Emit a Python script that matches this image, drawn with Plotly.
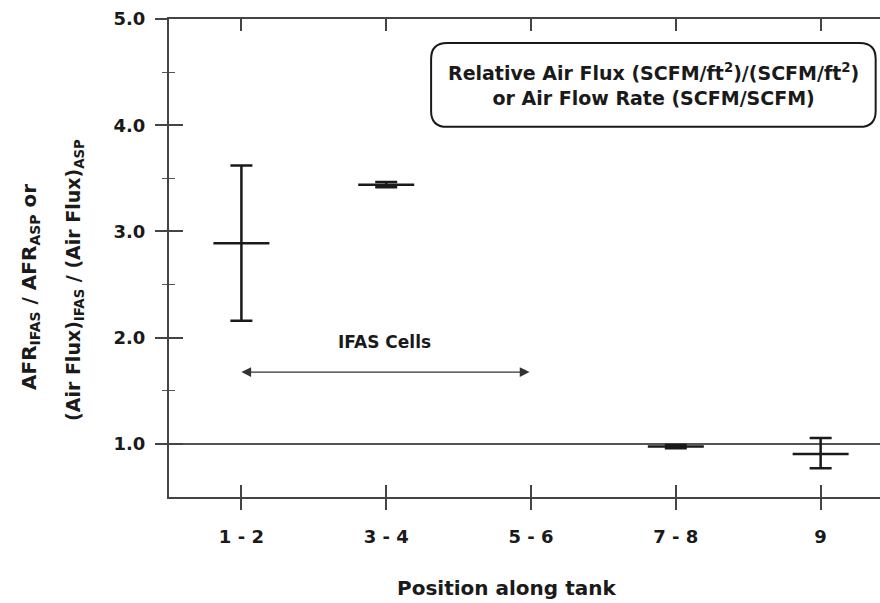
import plotly.graph_objects as go

positions = ["1 - 2", "3 - 4", "5 - 6", "7 - 8", "9"]
pos_index = [1, 2, 3, 4, 5]
pt_pos = [1, 2, 4, 5]
pt_mean = [2.89, 3.44, 0.975, 0.905]
pt_upper = [3.62, 3.465, 0.99, 1.055]
pt_lower = [2.16, 3.415, 0.96, 0.77]

FONT = "DejaVu Sans, Liberation Sans, Arial, sans-serif"
INK = "#1a1a1a"

err_plus = [u - m for u, m in zip(pt_upper, pt_mean)]
err_minus = [m - l for m, l in zip(pt_mean, pt_lower)]

fig = go.Figure()
fig.add_trace(go.Scatter(
    x=pt_pos, y=pt_mean, mode="markers",
    marker=dict(symbol="line-ew", size=40, line=dict(color=INK, width=2.5)),
    error_y=dict(type="data", symmetric=False, array=err_plus, arrayminus=err_minus,
                 color=INK, thickness=2.5, width=11),
    showlegend=False, hoverinfo="skip",
))
# invisible trace for the overlay axes (inside ticks)
fig.add_trace(go.Scatter(x=[1], y=[1], xaxis="x2", yaxis="y2", mode="markers",
                         marker=dict(opacity=0), showlegend=False, hoverinfo="skip"))

xr = [0.5, 5.41]
yr = [0.5, 5.0]
fig.update_layout(
    width=880, height=603,
    margin=dict(l=169, r=0, t=19, b=106),
    paper_bgcolor="white", plot_bgcolor="white",
    font=dict(family=FONT, color=INK),
    xaxis=dict(range=xr, tickmode="array", tickvals=pos_index, ticktext=positions,
               ticks="outside", ticklen=11, tickwidth=1.5, tickcolor="#444",
               showline=True, linecolor="#444", linewidth=2, mirror=True,
               showgrid=False, zeroline=False, ticklabelstandoff=11,
               tickfont=dict(size=18, weight="bold", family=FONT, color=INK)),
    yaxis=dict(range=yr, tickmode="array", tickvals=[1, 2, 3, 4, 5],
               ticktext=["1.0", "2.0", "3.0", "4.0", "5.0"],
               ticks="outside", ticklen=12, tickwidth=1.5, tickcolor="#444",
               showline=True, linecolor="#444", linewidth=2,
               showgrid=False, zeroline=False, ticklabelstandoff=6,
               minor=dict(tickvals=[1.5, 2.5, 3.5, 4.5], ticks="outside", ticklen=5,
                          tickwidth=1.2, tickcolor="#555"),
               tickfont=dict(size=18, weight="bold", family=FONT, color=INK)),
    xaxis2=dict(range=xr, overlaying="x", tickmode="array", tickvals=pos_index,
                ticks="inside", ticklen=12, tickwidth=1.5, tickcolor="#444",
                mirror="ticks", showticklabels=False, showgrid=False, zeroline=False,
                showline=False),
    yaxis2=dict(range=yr, overlaying="y", tickmode="array", tickvals=[1, 2, 3, 4, 5],
                ticks="inside", ticklen=14, tickwidth=1.5, tickcolor="#444",
                showticklabels=False, showgrid=False, zeroline=False, showline=False,
                minor=dict(tickvals=[1.5, 2.5, 3.5, 4.5], ticks="inside", ticklen=6,
                           tickwidth=1.2, tickcolor="#555")),
)

# reference line at 1.0
fig.add_shape(type="line", xref="paper", yref="y", x0=0, x1=1, y0=1.0, y1=1.0,
              line=dict(color="#555", width=2), layer="below")

# rounded legend-like box
bx0, bx1, by0, by1 = 2.31, 5.38, 3.985, 4.775
rx, ry = 0.11, 0.15
path = (f"M {bx0+rx},{by0} L {bx1-rx},{by0} Q {bx1},{by0} {bx1},{by0+ry} "
        f"L {bx1},{by1-ry} Q {bx1},{by1} {bx1-rx},{by1} L {bx0+rx},{by1} "
        f"Q {bx0},{by1} {bx0},{by1-ry} L {bx0},{by0+ry} Q {bx0},{by0} {bx0+rx},{by0} Z")
fig.add_shape(type="path", xref="x", yref="y", path=path,
              line=dict(color=INK, width=2), fillcolor="white")
fig.add_annotation(x=(bx0+bx1)/2, y=(by0+by1)/2, xref="x", yref="y",
                   text="Relative Air Flux (SCFM/ft<sup>2</sup>)/(SCFM/ft<sup>2</sup>)<br>or Air Flow Rate (SCFM/SCFM)",
                   showarrow=False, font=dict(size=19, weight="bold", family=FONT, color=INK),
                   align="center")

# IFAS cells arrow and label
fig.add_annotation(x=1, y=1.676, ax=3, ay=1.676, xref="x", yref="y", axref="x", ayref="y",
                   text="", showarrow=True, arrowhead=2, startarrowhead=2,
                   arrowside="end+start", arrowsize=1.5, startarrowsize=1.5,
                   arrowwidth=1.3, arrowcolor="#333")
fig.add_annotation(x=1.99, y=1.96, xref="x", yref="y", text="IFAS Cells", showarrow=False,
                   font=dict(size=17, weight="bold", family=FONT, color=INK))

# x-axis title
fig.add_annotation(x=(506-169)/711, y=(497-588)/478, xref="paper", yref="paper",
                   text="Position along tank", showarrow=False,
                   xanchor="center", yanchor="middle",
                   font=dict(size=20, weight="bold", family=FONT, color=INK))

# y-axis title (two rotated lines)
fig.add_annotation(x=(30-169)/711, y=(497-287)/478, xref="paper", yref="paper",
                   text="AFR<sub>IFAS</sub> / AFR<sub>ASP</sub> or", textangle=-90,
                   showarrow=False, xanchor="center", yanchor="middle",
                   font=dict(size=20, weight="bold", family=FONT, color=INK))
fig.add_annotation(x=(74-169)/711, y=(497-280)/478, xref="paper", yref="paper",
                   text="(Air Flux)<sub>IFAS</sub> / (Air Flux)<sub>ASP</sub>", textangle=-90,
                   showarrow=False, xanchor="center", yanchor="middle",
                   font=dict(size=19, weight="bold", family=FONT, color=INK))

fig.write_html("out.html")
